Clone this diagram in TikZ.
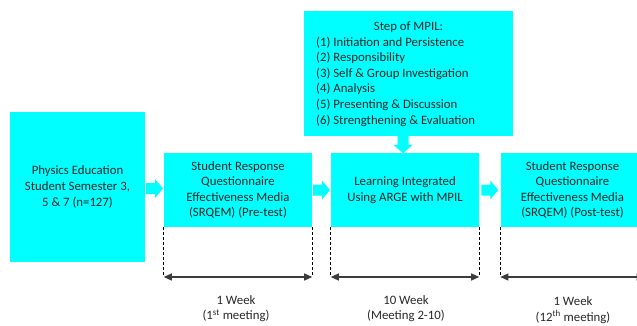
\documentclass[tikz,border=0pt]{standalone}
\usepackage{fontspec}
\setmainfont{Carlito}
\usetikzlibrary{arrows.meta,calc}
\definecolor{boxcyan}{RGB}{0,255,255}
\definecolor{txt}{RGB}{38,38,38}
\definecolor{dimline}{RGB}{60,60,60}
\begin{document}
\begin{tikzpicture}[x=1pt,y=-1pt,
  every node/.style={font=\fontsize{12.8}{15.6}\selectfont, text=txt},
  cbox/.style={fill=boxcyan, inner sep=0pt, align=center},
  plain/.style={inner sep=0pt, align=center},
  guide/.style={draw=black, line width=0.8pt, dash pattern=on 3pt off 2pt},
  dimarrow/.style={draw=dimline, line width=1.3pt, {Triangle[length=8pt,width=7pt]}-{Triangle[length=8pt,width=7pt]}},
  barrow/.pic={\fill[boxcyan] (-8.5,-5.5) -- (0.5,-5.5) -- (0.5,-9.5) -- (8.5,0) -- (0.5,9.5) -- (0.5,5.5) -- (-8.5,5.5) -- cycle;}
]
\useasboundingbox (0,0) rectangle (637,326);

% boxes
\node[cbox, minimum width=135pt, minimum height=150pt] (pop) at (77.5,187)
  {Physics Education\\Student Semester 3,\\5 \& 7 (n=127)};
\node[cbox, minimum width=148pt, minimum height=74pt] (pre) at (238,190)
  {Student Response\\Questionnaire\\Effectiveness Media\\(SRQEM) (Pre-test)};
\node[cbox, minimum width=148pt, minimum height=74pt] (int) at (405,190)
  {Learning Integrated\\Using ARGE with MPIL};
\node[cbox, minimum width=144pt, minimum height=74pt] (post) at (572.5,190)
  {Student Response\\Questionnaire\\Effectiveness Media\\(SRQEM) (Post-test)};
\node[cbox, minimum width=209pt, minimum height=125pt] (mpil) at (408.5,73.5) {};
\node[plain] (mpilt) at (408.5,27) {Step of MPIL:};
\node[plain, anchor=west, align=left] (mpill) at (316,81.5)
  {(1) Initiation and Persistence\\(2) Responsibility\\(3) Self \& Group Investigation\\(4) Analysis\\(5) Presenting \& Discussion\\(6) Strengthening \& Evaluation};

% block arrows
\pic at ($(pop.east)!0.5!(pre.west)$) {barrow};
\pic at ($(pre.east)!0.5!(int.west)$) {barrow};
\pic at ($(int.east)!0.5!(post.west)$) {barrow};
\pic[rotate=-90] at ($(mpil.south -| 403,0)!0.5!(int.north -| 403,0)$) {barrow};

% dimension guides
\coordinate (preL) at (pre.south west |- 0,277);
\coordinate (preR) at (pre.south east |- 0,277);
\coordinate (intL) at (int.south west |- 0,277);
\coordinate (intR) at (int.south east |- 0,277);
\coordinate (postL) at (post.south west |- 0,277);
\coordinate (postR) at (post.south east |- 0,277);
\draw[guide] (pre.south west) -- (preL);
\draw[guide] (pre.south east) -- (preR);
\draw[guide] (int.south west) -- (intL);
\draw[guide] (int.south east) -- (intR);
\draw[guide] (post.south west) -- (postL);
\draw[guide] (post.south east) -- (postR);
\draw[dimarrow] (preL) -- (preR);
\draw[dimarrow] (intL) -- (intR);
\draw[dimarrow] (postL) -- (postR);

% labels
\node[plain] (lab1) at (236,308.5) {1 Week\\(1\textsuperscript{st} meeting)};
\node[plain] (lab2) at (406,308.5) {10 Week\\(Meeting 2-10)};
\node[plain] (lab3) at (573,310) {1 Week\\(12\textsuperscript{th} meeting)};
\end{tikzpicture}
\end{document}
